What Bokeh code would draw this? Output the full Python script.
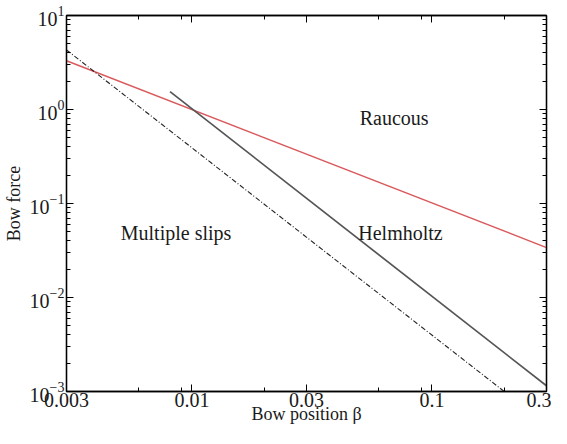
from bokeh.plotting import figure
from bokeh.models import LogAxis, FixedTicker, Range1d
from bokeh.core.properties import value
from bokeh.embed import file_html
from bokeh.resources import INLINE

# ---- data ----
beta_raucous = [0.003, 0.3]
force_raucous = [3.3, 0.034]

beta_helmholtz = [0.0081, 0.3]
force_helmholtz = [1.55, 0.00115]

beta_multi = [0.003, 0.2]
force_multi = [4.3, 0.001]

x_tick_values = [0.003, 0.01, 0.03, 0.1, 0.3]
x_tick_labels = ["0.003", "0.01", "0.03", "0.1", "0.3"]
x_minor_ticks = [0.006, 0.009, 0.02, 0.06, 0.09, 0.2]

y_tick_values = [0.001, 0.01, 0.1, 1, 10]
y_tick_keys = ["0.001", "0.01", "0.1", "1", "10"]
y_tick_labels = ["10⁻³", "10⁻²", "10⁻¹", "10⁰", "10¹"]
y_minor_ticks = [k * d for d in [0.001, 0.01, 0.1, 1] for k in range(2, 10)]

region_names = ["Raucous", "Multiple slips", "Helmholtz"]
region_x = [0.050, 0.00505, 0.0493]
region_y = [0.82, 0.049, 0.049]

FONT = "Liberation Serif"
TXT = "#1a1a1a"

p = figure(width=551, height=428, x_axis_type="log", y_axis_type="log",
           x_range=Range1d(0.003, 0.3), y_range=Range1d(0.001, 10),
           output_backend="svg", toolbar_location=None,
           min_border_left=59, min_border_right=5, min_border_top=15, min_border_bottom=37)
p.grid.visible = False
p.background_fill_color = "white"
p.border_fill_color = "white"
p.outline_line_color = "black"
p.outline_line_width = 1.3

xt = FixedTicker(ticks=x_tick_values, minor_ticks=x_minor_ticks)
yt = FixedTicker(ticks=y_tick_values, minor_ticks=y_minor_ticks)


def style(ax, ticker):
    ax.ticker = ticker
    ax.axis_line_color = "black"
    ax.axis_line_width = 1.3
    ax.major_tick_in = 7
    ax.major_tick_out = 0
    ax.minor_tick_in = 4
    ax.minor_tick_out = 0
    ax.major_tick_line_color = "black"
    ax.minor_tick_line_color = "black"
    ax.major_label_text_font = FONT
    ax.major_label_text_color = TXT
    ax.major_label_text_font_size = "20px"
    ax.axis_label_text_font = FONT
    ax.axis_label_text_font_style = "normal"
    ax.axis_label_text_color = TXT
    ax.axis_label_text_font_size = "18px"


xa = p.xaxis[0]
style(xa, xt)
xa.major_label_overrides = {k: v for k, v in zip(x_tick_labels, x_tick_labels)}
xa.axis_label = "Bow position β"
xa.major_label_standoff = 1
xa.axis_label_standoff = -6

ya = p.yaxis[0]
style(ya, yt)
ya.major_label_overrides = dict(zip(y_tick_keys, y_tick_labels))
ya.axis_label = "Bow force"
ya.major_label_standoff = 2
ya.axis_label_standoff = 3

top = LogAxis()
style(top, xt)
top.major_label_text_color = None
top.major_label_text_font_size = "2px"
top.major_label_standoff = 0
p.add_layout(top, "above")

right = LogAxis()
style(right, yt)
right.major_label_text_color = None
right.major_label_text_font_size = "2px"
right.major_label_standoff = 0
p.add_layout(right, "right")

p.line(beta_raucous, force_raucous, line_color="#d9595c", line_width=1.4)
p.line(beta_helmholtz, force_helmholtz, line_color="#555555", line_width=1.7)
p.line(beta_multi, force_multi, line_color="#222222", line_width=1.1, line_dash="5 2 1 2")

p.text(x=region_x, y=region_y, text=region_names, text_font=value(FONT),
       text_font_size="20px", text_color=TXT, text_align="left", text_baseline="alphabetic")

open("out.html", "w").write(file_html(p, INLINE))
